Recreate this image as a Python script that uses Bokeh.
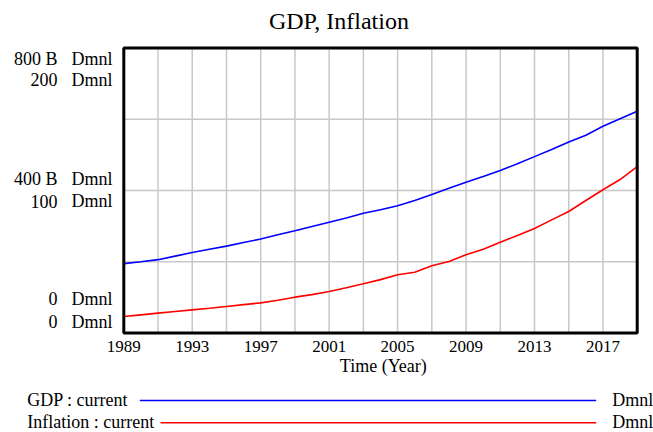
from bokeh.plotting import figure
from bokeh.models import Range1d
from bokeh.embed import file_html
from bokeh.resources import INLINE
from bokeh.core.properties import value

# ---------------- data ----------------
years = list(range(1989, 2020))
gdp_b = [195, 200, 206, 216, 226, 235, 244, 254, 264, 276, 287, 299, 311, 323, 336, 346,
         357, 372, 389, 406, 423, 439, 456, 475, 495, 515, 536, 555, 580, 601, 622]
inflation = [11.6, 12.8, 14.0, 15.2, 16.3, 17.4, 18.7, 20.0, 21.2, 23.0, 25.2, 27.0, 29.2, 31.8,
             34.6, 37.5, 40.9, 42.7, 47.2, 50.2, 54.9, 58.8, 63.7, 68.4, 73.4, 79.4, 85.3,
             93.0, 100.5, 107.7, 116.8]
x_ticks = [1989, 1993, 1997, 2001, 2005, 2009, 2013, 2017]
x_grid = list(range(1991, 2019, 2))
gdp_ticks = [800, 400, 0]
gdp_tick_labels = ["800 B", "400 B", "0"]
infl_ticks = [200, 100, 0]
infl_tick_labels = ["200", "100", "0"]
y_grid = [200, 400, 600]
series_names = ["GDP : current", "Inflation : current"]
series_units = ["Dmnl", "Dmnl"]
series_colors = ["#0000ff", "#ff0000"]
title_text = "GDP, Inflation"
x_title = "Time (Year)"

X0, X1 = 1989, 2019
G0, G1 = 0, 800
I0, I1 = 0, 200

# ---------------- layout (pixels) ----------------
W, H = 653, 432
L, R, T, B = 123.3, 636.7, 47.4, 332.6   # plot box in page pixels
FONT = "Liberation Serif"

kx = (R - L) / (X1 - X0)
ky = (B - T) / (G1 - G0)
ky2 = (B - T) / (I1 - I0)
xr = Range1d(X0 - L / kx, X1 + (W - R) / kx)
yr = Range1d(G0 - (H - B) / ky, G1 + T / ky)
yr2 = Range1d(I0 - (H - B) / ky2, I1 + T / ky2)

def xd(px):
    return xr.start + px / kx

def yd(py):
    return yr.end - py / ky

p = figure(width=W, height=H, x_range=xr, y_range=yr, output_backend="svg",
           toolbar_location=None, title=None, x_axis_location=None, y_axis_location=None,
           min_border_left=0, min_border_right=0, min_border_top=0, min_border_bottom=0)
p.extra_y_ranges = {"infl": yr2}
p.outline_line_color = None
for g in p.grid:
    g.visible = False
p.background_fill_color = "white"
p.border_fill_color = "white"

GRID = "#c8c8c8"
# grid lines
p.segment(x0=x_grid, y0=[G0] * len(x_grid), x1=x_grid, y1=[G1] * len(x_grid),
          line_color=GRID, line_width=1.5)
p.segment(x0=[X0] * len(y_grid), y0=y_grid, x1=[X1] * len(y_grid), y1=y_grid,
          line_color=GRID, line_width=1.5)

# series
p.line(years, gdp_b, line_color=series_colors[0], line_width=1.6)
p.line(years, inflation, line_color=series_colors[1], line_width=1.6, y_range_name="infl")

# plot box
p.quad(left=[X0], right=[X1], bottom=[G0], top=[G1], fill_color=None,
       line_color="black", line_width=3)

def txt(x, y, text, xo, yo, align, size=18, **kw):
    # shift so that the given offset is the visual baseline
    adj = -0.37 * size
    if isinstance(yo, list):
        yo = [v + adj for v in yo]
    else:
        yo = yo + adj
    p.text(x=x, y=y, text=text, x_offset=xo, y_offset=yo, text_align=align,
           text_baseline="alphabetic", text_font=value(FONT), text_font_size=f"{size}px",
           text_color="black", **kw)

# title
txt([X0], [G1], [title_text], 215.1, -18.1, "center", size=24)

# y tick labels: GDP scale (upper row of each pair) and Inflation scale (lower row)
gdp_yo = [17.6, -5.0, -27.6]
infl_yo = [38.6, 17.3, -4.9]
n = len(gdp_ticks)
txt([X0] * n, gdp_ticks, gdp_tick_labels, -66.3, gdp_yo, "right")
txt([X0] * n, gdp_ticks, ["Dmnl"] * n, -52.3, gdp_yo, "left")
txt([X0] * n, infl_ticks, infl_tick_labels, -66.3, infl_yo, "right", y_range_name="infl")
txt([X0] * n, infl_ticks, ["Dmnl"] * n, -52.3, infl_yo, "left", y_range_name="infl")

# x tick labels and axis title
txt(x_ticks, [G0] * len(x_ticks), [str(t) for t in x_ticks], 0, 19.7, "center", size=17)
txt([(X0 + X1) / 2], [G0], [x_title], 2.8, 39.1, "center")

# legend
leg_base = [73.1, 95.7]
txt([X0] * 2, [G0] * 2, series_names, -96.6, leg_base, "left")
txt([X1] * 2, [G0] * 2, series_units, -25.0, leg_base, "left")
leg_y = [400.0, 422.3]
leg_x0 = [139.3, 160.0]
leg_x1 = 595.7
p.segment(x0=[xd(v) for v in leg_x0], y0=[yd(v) for v in leg_y],
          x1=[xd(leg_x1)] * 2, y1=[yd(v) for v in leg_y],
          line_color=series_colors, line_width=1.6)

open("out.html", "w").write(file_html(p, INLINE))
